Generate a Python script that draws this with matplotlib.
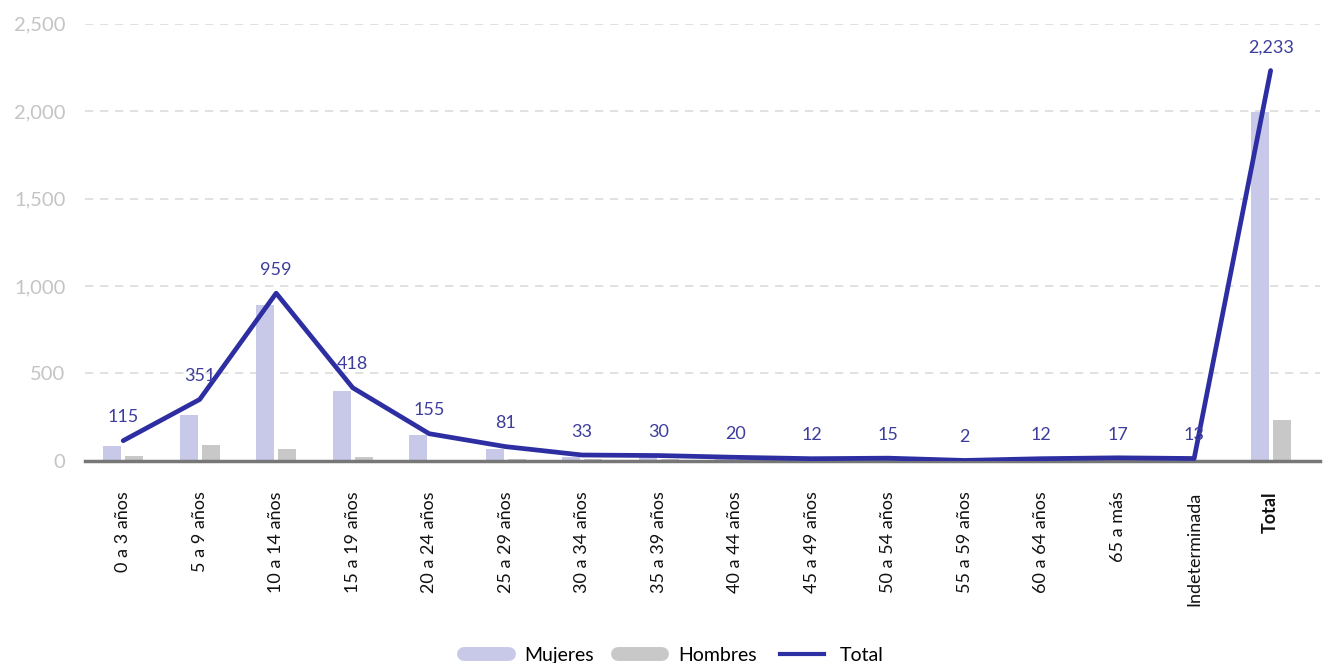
import matplotlib.pyplot as plt
import numpy as np
from matplotlib.lines import Line2D

plt.rcParams['font.family'] = ['Lato', 'DejaVu Sans']

# age groups and values
categories = ["0 a 3 años", "5 a 9 años", "10 a 14 años", "15 a 19 años", "20 a 24 años",
              "25 a 29 años", "30 a 34 años", "35 a 39 años", "40 a 44 años", "45 a 49 años",
              "50 a 54 años", "55 a 59 años", "60 a 64 años", "65 a más", "Indeterminada", "Total"]
mujeres = [86, 262, 892, 398, 149, 69, 24, 21, 12, 8, 10, 1, 8, 10, 8, 1998]
hombres = [29, 89, 67, 20, 6, 12, 9, 9, 8, 4, 5, 1, 4, 7, 5, 235]
total = [115, 351, 959, 418, 155, 81, 33, 30, 20, 12, 15, 2, 12, 17, 13, 2233]

c_muj = '#c8c9e8'
c_hom = '#c9c8c9'
c_tot = '#2e2ea3'

fig = plt.figure(figsize=(13.27, 6.63), dpi=100)
ax = fig.add_axes([0.064, 0.305, 0.931, 0.659])

x = np.arange(len(categories))
w = 0.235
ax.bar(x - 0.144, mujeres, width=w, color=c_muj, zorder=2)
ax.bar(x + 0.144, hombres, width=w, color=c_hom, zorder=2)
ax.plot(x, total, color=c_tot, lw=3.4, zorder=3, solid_capstyle='round')

for xi, v in zip(x, total):
    ax.annotate(f"{v:,}", (xi, v), xytext=(0, 11), textcoords='offset points',
                ha='center', va='bottom', fontsize=13, color='#3d3d9c')

ax.set_xlim(-0.5, 15.65)
ax.set_ylim(0, 2500)
ax.set_yticks(range(0, 2501, 500))
ax.set_yticklabels([f"{t:,}" for t in range(0, 2501, 500)], fontsize=14.5, color='#c4c4c4')
ax.yaxis.grid(True, linestyle=(0, (5, 4)), color='#dcdcdc', lw=1.2, zorder=0)
ax.set_axisbelow(True)

ax.set_xticks(x)
ax.set_xticklabels(categories, rotation=90, fontsize=13, color='#111111')
ax.get_xticklabels()[-1].set_fontweight('bold')
ax.tick_params(axis='both', length=0)
ax.tick_params(axis='x', pad=22)
ax.tick_params(axis='y', pad=14)

for s in ['top', 'right', 'left']:
    ax.spines[s].set_visible(False)
ax.spines['bottom'].set_color('#777777')
ax.spines['bottom'].set_linewidth(2.5)

handles = [Line2D([], [], color=c_muj, lw=10, solid_capstyle='round'),
           Line2D([], [], color=c_hom, lw=10, solid_capstyle='round'),
           Line2D([], [], color=c_tot, lw=3)]
fig.legend(handles, ["Mujeres", "Hombres", "Total"], loc='lower center', ncol=3,
           bbox_to_anchor=(0.508, -0.028), frameon=False, fontsize=14,
           handlelength=2.3, handletextpad=0.8, columnspacing=1.2)

plt.savefig("out.png", dpi=100)
